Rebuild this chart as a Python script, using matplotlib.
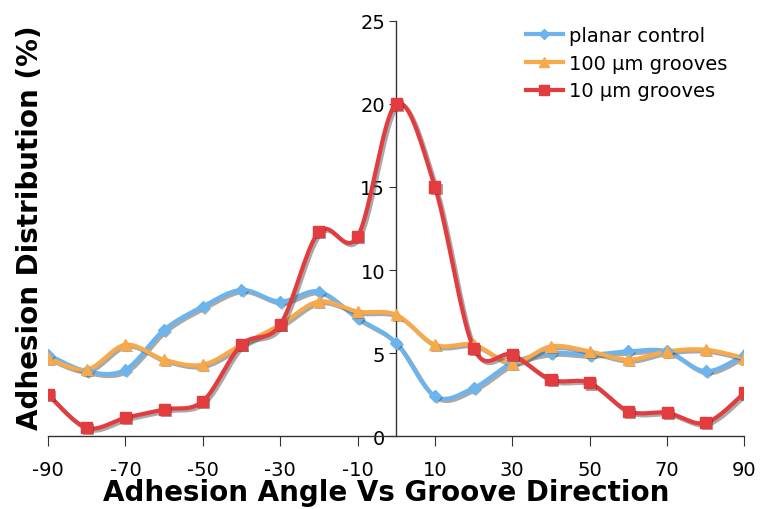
import numpy as np
import matplotlib
matplotlib.use("Agg")
import matplotlib.pyplot as plt
import matplotlib.patheffects as pe
from matplotlib.lines import Line2D

plt.rcParams["axes.unicode_minus"] = False

# data
angles = [-90, -80, -70, -60, -50, -40, -30, -20, -10, 0, 10, 20, 30, 40, 50, 60, 70, 80, 90]
planar = [4.9, 3.9, 4.0, 6.4, 7.8, 8.8, 8.1, 8.7, 7.1, 5.6, 2.4, 2.9, 4.4, 5.0, 4.9, 5.1, 5.1, 3.9, 4.9]
grooves100 = [4.7, 4.0, 5.5, 4.6, 4.3, 5.5, 6.7, 8.1, 7.5, 7.3, 5.5, 5.5, 4.4, 5.4, 5.1, 4.6, 5.1, 5.2, 4.7]
grooves10 = [2.5, 0.5, 1.1, 1.6, 2.1, 5.5, 6.7, 12.3, 12.0, 20.0, 15.0, 5.3, 4.9, 3.4, 3.2, 1.5, 1.4, 0.8, 2.6]

names = ["planar control", "100 \u00b5m grooves", "10 \u00b5m grooves"]
colors = ["#6cb4ee", "#f8a94b", "#e23c3f"]
markers = ["D", "^", "s"]
msizes = [6, 8, 8]


def smooth(x, y, n=20):
    # Excel style smoothed line: cubic bezier, control points from neighbours
    x = np.asarray(x, float)
    y = np.asarray(y, float)
    px = np.concatenate([[x[0]], x, [x[-1]]])
    py = np.concatenate([[y[0]], y, [y[-1]]])
    xs, ys = [], []
    t = np.linspace(0, 1, n)
    for i in range(1, len(px) - 2):
        p0 = np.array([px[i], py[i]])
        p3 = np.array([px[i + 1], py[i + 1]])
        c1 = p0 + (np.array([px[i + 1], py[i + 1]]) - np.array([px[i - 1], py[i - 1]])) / 6
        c2 = p3 - (np.array([px[i + 2], py[i + 2]]) - np.array([px[i], py[i]])) / 6
        b = ((1 - t) ** 3)[:, None] * p0 + (3 * (1 - t) ** 2 * t)[:, None] * c1 \
            + (3 * (1 - t) * t ** 2)[:, None] * c2 + (t ** 3)[:, None] * p3
        xs.extend(b[:, 0])
        ys.extend(b[:, 1])
    return xs, ys


fig = plt.figure(figsize=(7.67, 5.10), dpi=100)
ax = fig.add_axes([0.0626, 0.143, 0.908, 0.814])

shadow = [pe.SimpleLineShadow(offset=(1.5, -1.5), shadow_color="#555555", alpha=0.5), pe.Normal()]

handles = []
for vals, c, m, ms, nm in zip([planar, grooves100, grooves10], colors, markers, msizes, names):
    sx, sy = smooth(angles, vals)
    ax.plot(sx, sy, color=c, lw=3, path_effects=shadow, zorder=3, solid_capstyle="round")
    ax.plot(angles, vals, ls="none", marker=m, ms=ms, color=c, mec=c, zorder=4,
            path_effects=[pe.SimplePatchShadow(offset=(1.5, -1.5), alpha=0.4), pe.Normal()])
    handles.append(Line2D([], [], color=c, lw=3, marker=m, ms=ms - 1, mec=c))

ax.set_xlim(-90, 90)
ax.set_ylim(0, 25)

ax.spines["left"].set_position(("data", 0))
ax.spines["right"].set_visible(False)
ax.spines["top"].set_visible(False)
for s in ["left", "bottom"]:
    ax.spines[s].set_color("#333333")
    ax.spines[s].set_linewidth(1)

ax.set_xticks(range(-90, 91, 20))
ax.set_yticks(range(0, 26, 5))
ax.tick_params(axis="x", direction="out", length=7, labelsize=14, pad=10, color="#333333")
ax.tick_params(axis="y", direction="out", length=5, labelsize=14, pad=3, color="#333333")

fig.text(0.503, 0.006, "Adhesion Angle Vs Groove Direction", fontsize=20, fontweight="bold",
         ha="center", va="bottom")
fig.text(0.039, 0.553, "Adhesion Distribution (%)", rotation=90, fontsize=20,
         fontweight="bold", ha="center", va="center")

ax.legend(handles, names, loc="upper right", bbox_to_anchor=(1.0, 1.03), frameon=False,
          fontsize=14, handlelength=1.9, handletextpad=0.3, labelspacing=0.45)

fig.savefig("out.png", dpi=100)
